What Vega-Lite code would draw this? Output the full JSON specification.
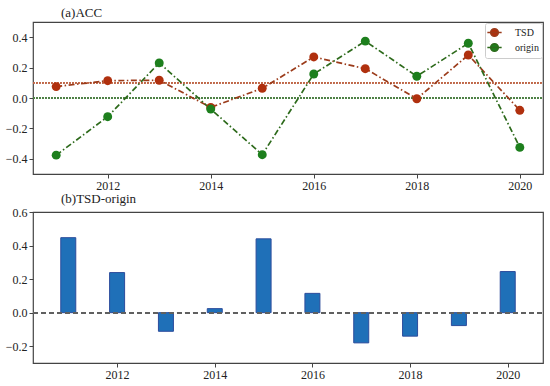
{
  "$schema": "https://vega.github.io/schema/vega-lite/v6.json",
  "padding": {"left": 4, "top": 6, "right": 0, "bottom": 0},
  "background": "white",
  "config": {
    "font": "Liberation Serif",
    "view": {"stroke": "#444", "strokeWidth": 1.2},
    "axis": {"grid": false, "domain": false, "tickColor": "#444", "tickSize": 4, "tickWidth": 1, "labelFont": "Liberation Serif", "labelFontSize": 12, "labelColor": "#222", "labelPadding": 2, "labelOverlap": false, "labelFlush": false},
    "legend": {"labelFont": "Liberation Serif"},
    "title": {"font": "Liberation Serif", "fontSize": 13, "fontWeight": "normal", "anchor": "start", "frame": "group", "dx": 28, "color": "#222", "offset": 2}
  },
  "spacing": 0,
  "vconcat": [
    {
      "title": {"text": "(a)ACC", "anchor": "start", "frame": "group", "align": "left", "dx": 28},
      "width": 510,
      "height": 152,
      "data": {"values": [
        {"year": 2011, "series": "TSD", "value": 0.075},
        {"year": 2012, "series": "TSD", "value": 0.114},
        {"year": 2013, "series": "TSD", "value": 0.117},
        {"year": 2014, "series": "TSD", "value": -0.062},
        {"year": 2015, "series": "TSD", "value": 0.064},
        {"year": 2016, "series": "TSD", "value": 0.27},
        {"year": 2017, "series": "TSD", "value": 0.193},
        {"year": 2018, "series": "TSD", "value": -0.005},
        {"year": 2019, "series": "TSD", "value": 0.283},
        {"year": 2020, "series": "TSD", "value": -0.081},
        {"year": 2011, "series": "origin", "value": -0.376},
        {"year": 2012, "series": "origin", "value": -0.123},
        {"year": 2013, "series": "origin", "value": 0.231},
        {"year": 2014, "series": "origin", "value": -0.073},
        {"year": 2015, "series": "origin", "value": -0.373},
        {"year": 2016, "series": "origin", "value": 0.158},
        {"year": 2017, "series": "origin", "value": 0.374},
        {"year": 2018, "series": "origin", "value": 0.143},
        {"year": 2019, "series": "origin", "value": 0.36},
        {"year": 2020, "series": "origin", "value": -0.325}
      ]},
      "encoding": {
        "x": {"field": "year", "type": "quantitative", "title": null, "scale": {"domain": [2010.55, 2020.45], "nice": false, "zero": false}, "axis": {"values": [2012, 2014, 2016, 2018, 2020], "format": "d", "labelOverlap": false}},
        "y": {"field": "value", "type": "quantitative", "title": null, "scale": {"domain": [-0.5, 0.5], "nice": false}, "axis": {"values": [-0.4, -0.2, 0, 0.2, 0.4], "format": ".1f", "labelOverlap": false}}
      },
      "layer": [
        {
          "mark": {"type": "rule", "strokeDash": [1.5, 1.5], "strokeWidth": 0.6, "color": "#c06a4c"},
          "encoding": {"x": {"value": 0}, "x2": {"value": 510}, "y": {"datum": 0.1, "type": "quantitative", "title": null, "axis": {"values": [-0.4, -0.2, 0, 0.2, 0.4], "format": ".1f", "labelOverlap": false}}}
        },
        {
          "mark": {"type": "rule", "strokeDash": [1.5, 1.5], "strokeWidth": 0.6, "color": "#4f8044"},
          "encoding": {"x": {"value": 0}, "x2": {"value": 510}, "y": {"datum": 0, "type": "quantitative", "title": null, "axis": {"values": [-0.4, -0.2, 0, 0.2, 0.4], "format": ".1f", "labelOverlap": false}}}
        },
        {
          "mark": {"type": "line", "strokeDash": [6, 2.5, 1.5, 2.5], "strokeWidth": 1.7},
          "encoding": {
            "stroke": {"field": "series", "type": "nominal", "scale": {"domain": ["TSD", "origin"], "range": ["#9b3b1a", "#2d6a1b"]},
              "legend": {"orient": "top-right", "offset": 1, "title": null,
                "symbolType": "M-1.3,0H1.3M-0.7,0A0.7,0.7 0 1,0 0.7,0A0.7,0.7 0 1,0 -0.7,0Z",
                "symbolSize": 121, "symbolStrokeWidth": 1.5, "symbolDash": [], "symbolOpacity": 1,
                "strokeColor": "#ccc", "fillColor": "white", "padding": 3, "cornerRadius": 2,
                "labelFontSize": 10, "labelColor": "#222", "labelOffset": 14, "rowPadding": 0,
                "encode": {"symbols": {"update": {"fill": {"signal": "datum.value === 'TSD' ? '#b0300e' : '#1d7f1d'"}}}}}}
          }
        },
        {
          "mark": {"type": "point", "filled": true, "size": 80, "opacity": 1},
          "encoding": {
            "fill": {"field": "series", "type": "nominal", "scale": {"domain": ["TSD", "origin"], "range": ["#b0300e", "#1d7f1d"]}, "legend": null}
          }
        }
      ]
    },
    {
      "title": {"text": "(b)TSD-origin", "offset": 0, "anchor": "start", "frame": "group", "align": "left", "dx": 28},
      "width": 510,
      "height": 151,
      "data": {"values": [
        {"year": 2011, "diff": 0.447},
        {"year": 2012, "diff": 0.239},
        {"year": 2013, "diff": -0.111},
        {"year": 2014, "diff": 0.024},
        {"year": 2015, "diff": 0.44},
        {"year": 2016, "diff": 0.115},
        {"year": 2017, "diff": -0.18},
        {"year": 2018, "diff": -0.14},
        {"year": 2019, "diff": -0.077},
        {"year": 2020, "diff": 0.245}
      ]},
      "layer": [
        {
          "mark": {"type": "bar", "size": 15, "fill": "#1f70b8", "stroke": "#2c4c9c", "strokeWidth": 1},
          "encoding": {
            "x": {"field": "year", "type": "quantitative", "title": null, "scale": {"domain": [2010.38, 2020.62], "nice": false, "zero": false}, "axis": {"values": [2012, 2014, 2016, 2018, 2020], "format": "d", "labelOverlap": false}},
            "y": {"field": "diff", "type": "quantitative", "title": null, "scale": {"domain": [-0.3, 0.6], "nice": false}, "axis": {"values": [-0.2, 0, 0.2, 0.4, 0.6], "format": ".1f", "labelOverlap": false}},
            "y2": {"datum": 0}
          }
        },
        {
          "mark": {"type": "rule", "strokeDash": [5, 3], "strokeWidth": 1.5, "color": "#606060"},
          "encoding": {"x": {"value": 0}, "x2": {"value": 510}, "y": {"datum": 0, "type": "quantitative", "title": null, "axis": {"values": [-0.2, 0, 0.2, 0.4, 0.6], "format": ".1f", "labelOverlap": false}}}
        }
      ]
    }
  ]
}
